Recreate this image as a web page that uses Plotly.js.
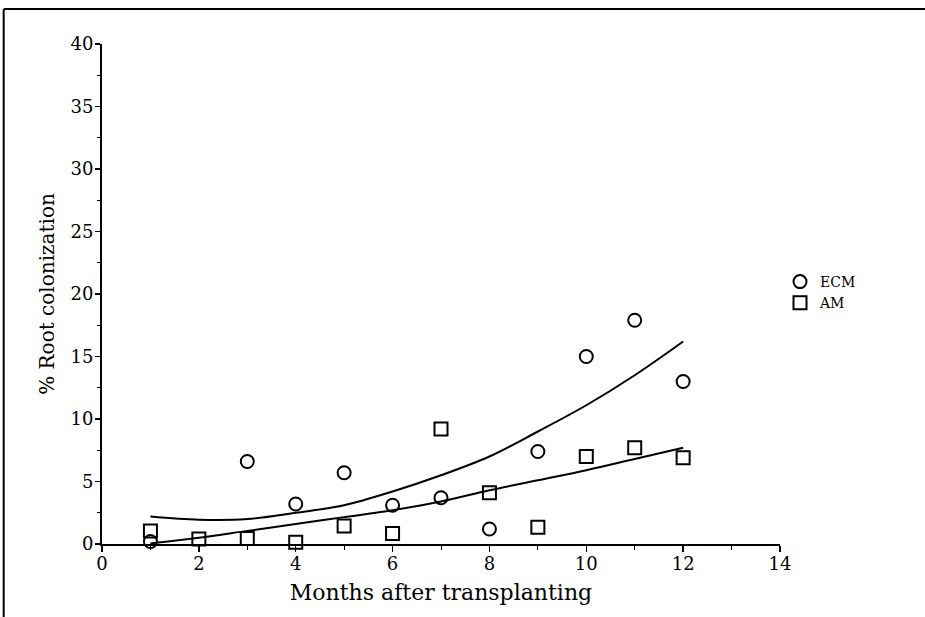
<!DOCTYPE html>
<html>
<head>
<meta charset="utf-8">
<script src="https://cdn.plot.ly/plotly-3.0.1.min.js"></script>
<style>html,body{margin:0;padding:0;background:#fff;}#chart{width:925px;height:617px;}</style>
</head>
<body>
<div id="chart"></div>
<script>
// Months after transplanting
const months = [1, 2, 3, 4, 5, 6, 7, 8, 9, 10, 11, 12];
const ecmMonths = [1, 3, 4, 5, 6, 7, 8, 9, 10, 11, 12];
const ecmValues = [0.2, 6.6, 3.2, 5.7, 3.1, 3.7, 1.2, 7.4, 15.0, 17.9, 13.0];
const amValues = [1.05, 0.4, 0.45, 0.15, 1.45, 0.85, 9.2, 4.1, 1.35, 7.0, 7.7, 6.9];
// fitted curves
const ecmFit = [2.2, 1.95, 2.0, 2.5, 3.1, 4.2, 5.5, 7.0, 9.0, 11.1, 13.5, 16.2];
const amFit = [0.05, 0.5, 1.05, 1.6, 2.15, 2.7, 3.4, 4.3, 5.1, 5.9, 6.8, 7.7];

const font = "DejaVu Serif, serif";

const traces = [
  {x: months, y: ecmFit, mode: 'lines', line: {color: '#000', width: 2, shape: 'spline'}, showlegend: false, hoverinfo: 'skip'},
  {x: months, y: amFit, mode: 'lines', line: {color: '#000', width: 2, shape: 'spline'}, showlegend: false, hoverinfo: 'skip'},
  {x: ecmMonths, y: ecmValues, mode: 'markers', name: 'ECM', cliponaxis: false,
   marker: {symbol: 'circle-open', size: 13, color: '#000', line: {width: 2, color: '#000'}}},
  {x: months, y: amValues, mode: 'markers', name: 'AM', cliponaxis: false,
   marker: {symbol: 'square-open', size: 13, color: '#000', line: {width: 2, color: '#000'}}}
];

const layout = {
  width: 925, height: 617,
  margin: {l: 102, r: 145, t: 44, b: 73},
  paper_bgcolor: '#fff', plot_bgcolor: '#fff',
  font: {family: font, color: '#000', size: 17},
  showlegend: true,
  legend: {x: 1.0, y: 0.556, xanchor: 'left', yanchor: 'top', font: {size: 14, family: font}, bgcolor: 'rgba(0,0,0,0)', tracegroupgap: 0, itemwidth: 30},
  xaxis: {
    range: [0, 14], dtick: 2, tick0: 0, showgrid: false, zeroline: false,
    showline: true, linecolor: '#000', linewidth: 2,
    ticks: 'outside', ticklen: 6, tickwidth: 1.5, tickcolor: '#000',
    minor: {dtick: 1, ticks: 'outside', ticklen: 4, tickwidth: 1, tickcolor: '#000'},
    tickfont: {size: 18, family: font},
    ticklabelstandoff: -4,
    title: {text: 'Months after transplanting', font: {size: 22, family: font}, standoff: 12}
  },
  yaxis: {
    range: [0, 40], dtick: 5, tick0: 0, showgrid: false, zeroline: false,
    showline: true, linecolor: '#000', linewidth: 2,
    ticks: 'outside', ticklen: 5, tickwidth: 1.5, tickcolor: '#000',
    minor: {dtick: 2.5, ticks: 'outside', ticklen: 3, tickwidth: 1, tickcolor: '#000'},
    tickfont: {size: 18, family: font},
    ticklabelstandoff: -2,
    title: {text: '% Root colonization', font: {size: 20, family: font}, standoff: 10}
  },
  shapes: [
    {type: 'line', xref: 'paper', yref: 'paper', x0: -0.145, x1: 1.22, y0: 1.07, y1: 1.07, line: {color: '#000', width: 2}},
    {type: 'line', xref: 'paper', yref: 'paper', x0: -0.145, x1: -0.145, y0: 1.07, y1: -0.15, line: {color: '#000', width: 2}}
  ]
};

Plotly.newPlot('chart', traces, layout, {displayModeBar: false, staticPlot: true});
</script>
</body>
</html>
